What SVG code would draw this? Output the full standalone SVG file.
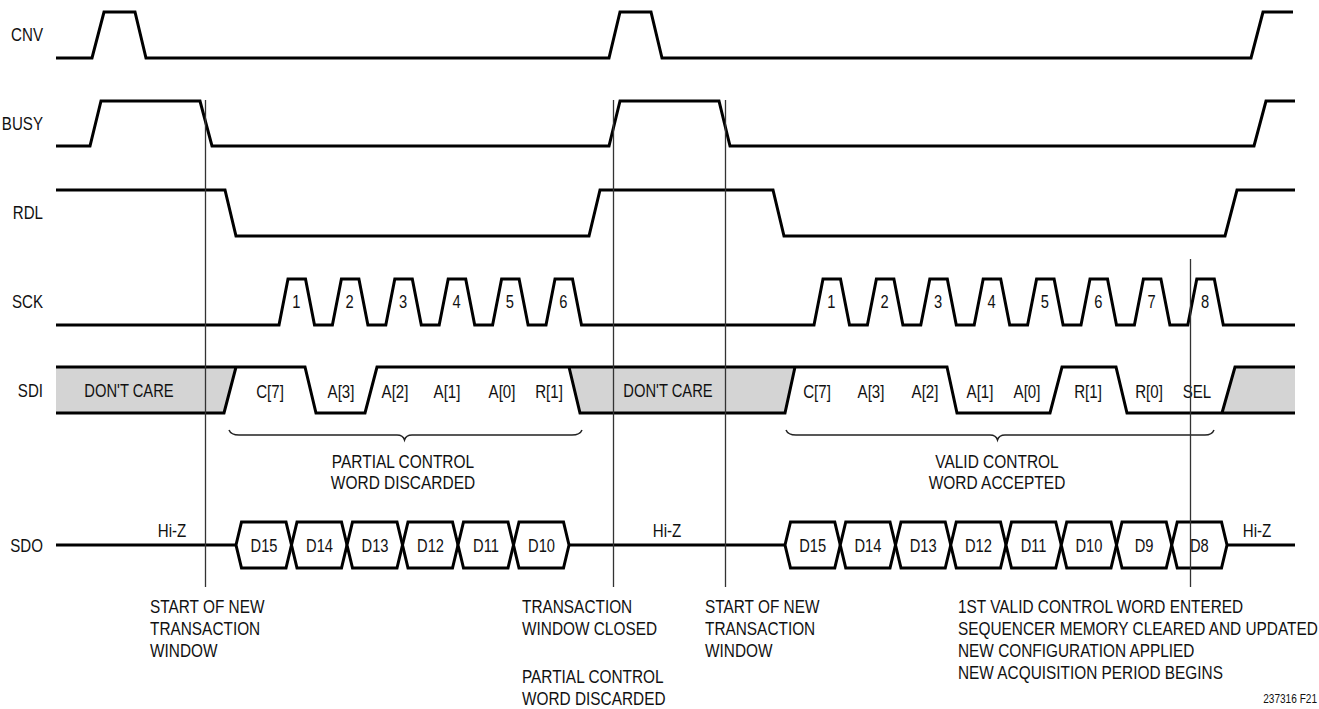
<svg xmlns="http://www.w3.org/2000/svg" width="1319" height="709" viewBox="0 0 1319 709">
<style>
text{font-family:"Liberation Sans",Arial,sans-serif;font-size:18px;fill:#111}
.lbl{text-anchor:end}
.c{text-anchor:middle}
.d{text-anchor:middle;font-size:17.5px}
.sig{fill:none;stroke:#000;stroke-width:3;stroke-linejoin:miter}
.gray{fill:#d4d4d4;stroke:none}
.hex{fill:#fff;stroke:#000;stroke-width:3;stroke-linejoin:miter}
.mark{stroke:#333;stroke-width:1.3;fill:none}
.brace{fill:none;stroke:#222;stroke-width:1.5}
</style>
<rect width="1319" height="709" fill="#fff"/>

<g id="CNV">
<text class="lbl" transform="translate(43,41) scale(0.84,1)">CNV</text>
<path class="sig" d="M56,58 H92 L104,12 H135 L146,58 H609 L620,12 H651 L662,58 H1251 L1263,12 H1293"/>
</g>

<g id="BUSY">
<text class="lbl" transform="translate(43,130) scale(0.84,1)">BUSY</text>
<path class="sig" d="M56,146 H90 L101,101 H200 L212,146 H609 L620,101 H719 L730,146 H1254 L1266,101 H1295"/>
</g>

<g id="RDL">
<text class="lbl" transform="translate(43,219) scale(0.84,1)">RDL</text>
<path class="sig" d="M56,190 H225 L236,236 H589 L600,190 H773 L784,236 H1225 L1237,190 H1295"/>
</g>

<g id="SCK">
<text class="lbl" transform="translate(43,308) scale(0.84,1)">SCK</text>
<path class="sig" d="M56,325 H279 L288,279 H305.5 L314.5,325 H332.4 L341.4,279 H358.9 L367.9,325 H385.8 L394.8,279 H412.3 L421.3,325 H439.2 L448.2,279 H465.7 L474.7,325 H492.6 L501.6,279 H519.1 L528.1,325 H546 L555,279 H572.5 L581.5,325 H814 L823,279 H840.5 L849.5,325 H867.4 L876.4,279 H893.9 L902.9,325 H920.8 L929.8,279 H947.3 L956.3,325 H974.2 L983.2,279 H1000.7 L1009.7,325 H1027.6 L1036.6,279 H1054.1 L1063.1,325 H1081 L1090,279 H1107.5 L1116.5,325 H1134.4 L1143.4,279 H1160.9 L1169.9,325 H1187.8 L1196.8,279 H1214.3 L1223.3,325 H1295"/>
<text class="d" transform="translate(296.3,308) scale(0.84,1)">1</text>
<text class="d" transform="translate(349.7,308) scale(0.84,1)">2</text>
<text class="d" transform="translate(403.1,308) scale(0.84,1)">3</text>
<text class="d" transform="translate(456.5,308) scale(0.84,1)">4</text>
<text class="d" transform="translate(509.9,308) scale(0.84,1)">5</text>
<text class="d" transform="translate(563.3,308) scale(0.84,1)">6</text>
<text class="d" transform="translate(831.3,308) scale(0.84,1)">1</text>
<text class="d" transform="translate(884.7,308) scale(0.84,1)">2</text>
<text class="d" transform="translate(938.1,308) scale(0.84,1)">3</text>
<text class="d" transform="translate(991.5,308) scale(0.84,1)">4</text>
<text class="d" transform="translate(1044.9,308) scale(0.84,1)">5</text>
<text class="d" transform="translate(1098.3,308) scale(0.84,1)">6</text>
<text class="d" transform="translate(1151.7,308) scale(0.84,1)">7</text>
<text class="d" transform="translate(1205.1,308) scale(0.84,1)">8</text>
</g>

<g id="SDI">
<text class="lbl" transform="translate(43,397) scale(0.84,1)">SDI</text>
<polygon class="gray" points="56,367 236,367 224,413 56,413"/>
<polygon class="gray" points="569,367 795,367 785,413 580,413"/>
<polygon class="gray" points="1235,367 1295,367 1295,413 1222,413"/>
<path class="sig" d="M56,367 H236 M56,413 H224 L236,367 H305 L316,413 H365 L377,367 H795 M569,367 L580,413 H785 L795,367 H947 L957,413 H1050 L1062,367 H1116 L1127,413 H1222 L1235,367 H1295 M1222,413 H1295"/>
<text class="c" transform="translate(129,397) scale(0.82,1)">DON'T CARE</text>
<text class="c" transform="translate(270,398) scale(0.84,1)">C[7]</text>
<text class="c" transform="translate(341,398) scale(0.84,1)">A[3]</text>
<text class="c" transform="translate(395,398) scale(0.84,1)">A[2]</text>
<text class="c" transform="translate(447,398) scale(0.84,1)">A[1]</text>
<text class="c" transform="translate(502,398) scale(0.84,1)">A[0]</text>
<text class="c" transform="translate(549,398) scale(0.84,1)">R[1]</text>
<text class="c" transform="translate(668,397) scale(0.82,1)">DON'T CARE</text>
<text class="c" transform="translate(817,398) scale(0.84,1)">C[7]</text>
<text class="c" transform="translate(871,398) scale(0.84,1)">A[3]</text>
<text class="c" transform="translate(925,398) scale(0.84,1)">A[2]</text>
<text class="c" transform="translate(980,398) scale(0.84,1)">A[1]</text>
<text class="c" transform="translate(1027,398) scale(0.84,1)">A[0]</text>
<text class="c" transform="translate(1088,398) scale(0.84,1)">R[1]</text>
<text class="c" transform="translate(1149,398) scale(0.84,1)">R[0]</text>
<text class="c" transform="translate(1197,398) scale(0.84,1)">SEL</text>
</g>

<g id="brace-partial">
<path class="brace" d="M229,430 Q231,435 239,435 L397,435 Q403,435 404.5,440 Q406,435 412,435 L572,435 Q580,435 582,430"/>
<text class="c" transform="translate(403,468) scale(0.86,1)">PARTIAL CONTROL</text>
<text class="c" transform="translate(403,489) scale(0.86,1)">WORD DISCARDED</text>
</g>

<g id="brace-valid">
<path class="brace" d="M786,430 Q788,435 796,435 L990,435 Q996,435 997.5,440 Q999,435 1005,435 L1205,435 Q1212,435 1214,430"/>
<text class="c" transform="translate(997,468) scale(0.86,1)">VALID CONTROL</text>
<text class="c" transform="translate(997,489) scale(0.86,1)">WORD ACCEPTED</text>
</g>

<g id="SDO">
<text class="lbl" transform="translate(43,552) scale(0.84,1)">SDO</text>
<path class="sig" d="M56,545 H236 M569,545 H785 M1227,545 H1295"/>
<polygon class="hex" points="236,545 241.5,522 286,522 291.5,545 286,568 241.5,568"/>
<polygon class="hex" points="291.5,545 297,522 341.5,522 347,545 341.5,568 297,568"/>
<polygon class="hex" points="347,545 352.5,522 397,522 402.5,545 397,568 352.5,568"/>
<polygon class="hex" points="402.5,545 408,522 452.5,522 458,545 452.5,568 408,568"/>
<polygon class="hex" points="458,545 463.5,522 508,522 513.5,545 508,568 463.5,568"/>
<polygon class="hex" points="513.5,545 519,522 563.5,522 569,545 563.5,568 519,568"/>
<text class="d" transform="translate(264,552) scale(0.84,1)">D15</text>
<text class="d" transform="translate(319.5,552) scale(0.84,1)">D14</text>
<text class="d" transform="translate(375,552) scale(0.84,1)">D13</text>
<text class="d" transform="translate(430.5,552) scale(0.84,1)">D12</text>
<text class="d" transform="translate(486,552) scale(0.84,1)">D11</text>
<text class="d" transform="translate(541.5,552) scale(0.84,1)">D10</text>
<polygon class="hex" points="785,545 790.5,522 834.75,522 840.25,545 834.75,568 790.5,568"/>
<polygon class="hex" points="840.25,545 845.75,522 890,522 895.5,545 890,568 845.75,568"/>
<polygon class="hex" points="895.5,545 901,522 945.25,522 950.75,545 945.25,568 901,568"/>
<polygon class="hex" points="950.75,545 956.25,522 1000.5,522 1006,545 1000.5,568 956.25,568"/>
<polygon class="hex" points="1006,545 1011.5,522 1055.75,522 1061.25,545 1055.75,568 1011.5,568"/>
<polygon class="hex" points="1061.25,545 1066.75,522 1111,522 1116.5,545 1111,568 1066.75,568"/>
<polygon class="hex" points="1116.5,545 1122,522 1166.25,522 1171.75,545 1166.25,568 1122,568"/>
<polygon class="hex" points="1171.75,545 1177.25,522 1221.5,522 1227,545 1221.5,568 1177.25,568"/>
<text class="d" transform="translate(812.6,552) scale(0.84,1)">D15</text>
<text class="d" transform="translate(867.9,552) scale(0.84,1)">D14</text>
<text class="d" transform="translate(923.1,552) scale(0.84,1)">D13</text>
<text class="d" transform="translate(978.4,552) scale(0.84,1)">D12</text>
<text class="d" transform="translate(1033.6,552) scale(0.84,1)">D11</text>
<text class="d" transform="translate(1088.9,552) scale(0.84,1)">D10</text>
<text class="d" transform="translate(1144.1,552) scale(0.84,1)">D9</text>
<text class="d" transform="translate(1199.4,552) scale(0.84,1)">D8</text>
<text class="c" transform="translate(172,537) scale(0.84,1)">Hi-Z</text>
<text class="c" transform="translate(667,537) scale(0.84,1)">Hi-Z</text>
<text class="c" transform="translate(1257,537) scale(0.84,1)">Hi-Z</text>
</g>

<g id="markers">
<line class="mark" x1="205.5" y1="100" x2="205.5" y2="587"/>
<line class="mark" x1="613.5" y1="100" x2="613.5" y2="587"/>
<line class="mark" x1="725.5" y1="100" x2="725.5" y2="587"/>
<line class="mark" x1="1190.5" y1="259" x2="1190.5" y2="587"/>
</g>

<g id="note-start1">
<text transform="translate(150,613) scale(0.855,1)">START OF NEW</text>
<text transform="translate(150,635) scale(0.855,1)">TRANSACTION</text>
<text transform="translate(150,657) scale(0.855,1)">WINDOW</text>
</g>
<g id="note-closed">
<text transform="translate(522,613) scale(0.855,1)">TRANSACTION</text>
<text transform="translate(522,635) scale(0.855,1)">WINDOW CLOSED</text>
<text transform="translate(522,683) scale(0.855,1)">PARTIAL CONTROL</text>
<text transform="translate(522,705) scale(0.855,1)">WORD DISCARDED</text>
</g>
<g id="note-start2">
<text transform="translate(705,613) scale(0.855,1)">START OF NEW</text>
<text transform="translate(705,635) scale(0.855,1)">TRANSACTION</text>
<text transform="translate(705,657) scale(0.855,1)">WINDOW</text>
</g>
<g id="note-valid">
<text transform="translate(958,613) scale(0.855,1)">1ST VALID CONTROL WORD ENTERED</text>
<text transform="translate(958,635) scale(0.855,1)">SEQUENCER MEMORY CLEARED AND UPDATED</text>
<text transform="translate(958,657) scale(0.855,1)">NEW CONFIGURATION APPLIED</text>
<text transform="translate(958,679) scale(0.855,1)">NEW ACQUISITION PERIOD BEGINS</text>
</g>
<text transform="translate(1317,703) scale(0.84,1)" style="font-size:12px;text-anchor:end">237316 F21</text>
</svg>
